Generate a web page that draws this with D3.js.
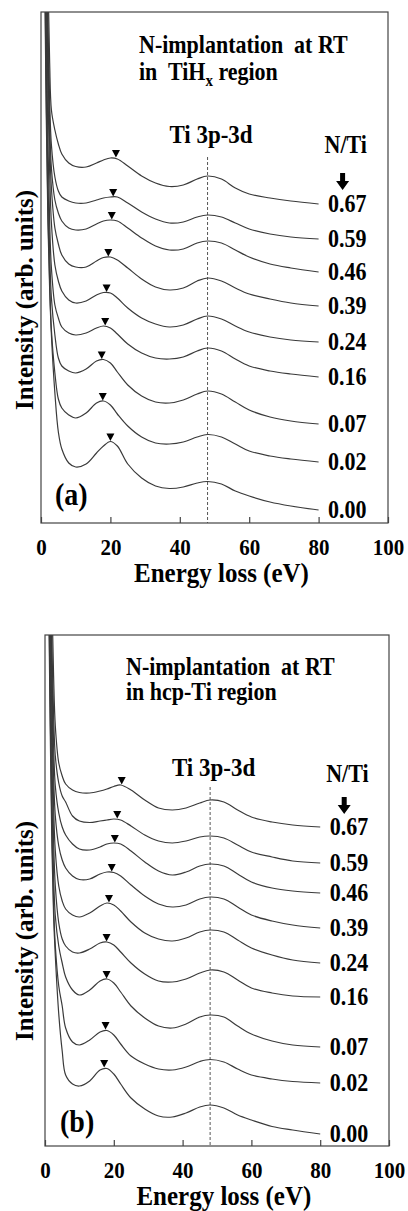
<!DOCTYPE html>
<html>
<head>
<meta charset="utf-8">
<script src="https://cdn.jsdelivr.net/npm/d3@7"></script>
<style>
  body { margin: 0; background: #fff; }
  text { font-family: "Liberation Serif", "Times New Roman", serif; font-weight: bold; fill: #000; }
</style>
</head>
<body>
<div id="chart"></div>
<script>
// energy grid (eV) shared by every spectrum
var energy = [1, 1.5, 2, 2.5, 3, 4, 5, 6, 8, 10, 13, 16, 18, 20, 22, 25, 29, 33, 37, 41, 45, 48, 52, 56, 60, 66, 72, 80];

// N/Ti ratios, top spectrum first
var ratios = ["0.67", "0.59", "0.46", "0.39", "0.24", "0.16", "0.07", "0.02", "0.00"];

// (a) TiHx region - intensity (arb. units, offset)
var tihx067 = [75, 64, 55, 46, 41.3, 39.3, 37.9, 36.9, 36.0, 35.65, 35.6, 36.0, 36.3, 36.5, 36.4, 35.7, 34.7, 34.0, 33.65, 33.8, 34.4, 34.7, 34.4, 33.5, 32.9, 32.5, 32.2, 31.9];
var tihx059 = [72, 60, 50, 42, 37.8, 34.6, 33.2, 32.6, 32.2, 32.0, 32.0, 32.3, 32.5, 32.6, 32.6, 32.0, 31.1, 30.4, 30.0, 30.1, 30.6, 30.8, 30.6, 30.0, 29.4, 28.9, 28.6, 28.4];
var tihx046 = [70, 58, 48, 40, 35.5, 32.3, 31.0, 30.2, 29.5, 29.3, 29.4, 29.9, 30.2, 30.3, 30.2, 29.5, 28.5, 27.7, 27.3, 27.4, 28.0, 28.2, 28.0, 27.3, 26.6, 25.9, 25.5, 25.1];
var tihx039 = [68, 56, 46, 38, 33.5, 29.5, 27.9, 26.8, 25.9, 25.6, 25.6, 26.2, 26.55, 26.6, 26.3, 25.5, 24.4, 23.6, 23.3, 23.5, 24.2, 24.5, 24.2, 23.5, 22.9, 22.4, 22.0, 21.7];
var tihx024 = [66, 54, 43, 35, 30, 25.8, 24.2, 23.2, 22.3, 22.0, 22.2, 22.8, 23.05, 23.0, 22.5, 21.5, 20.5, 19.9, 19.6, 19.8, 20.4, 20.7, 20.4, 19.7, 19.1, 18.6, 18.3, 18.1];
var tihx016 = [64, 50, 38, 30, 25.5, 21.8, 20.5, 19.6, 19.0, 18.8, 19.0, 19.5, 19.7, 19.5, 18.9, 17.9, 17.0, 16.5, 16.4, 16.6, 17.2, 17.5, 17.2, 16.4, 15.7, 15.2, 14.9, 14.6];
var tihx007 = [62, 46, 34, 27, 22.5, 18.8, 16.5, 15.7, 15.2, 15.0, 15.4, 16.2, 16.35, 16.0, 15.1, 13.8, 12.7, 12.1, 12.0, 12.3, 12.9, 13.2, 12.9, 12.1, 11.3, 10.6, 10.2, 9.9];
var tihx002 = [60, 43, 31, 24, 19.3, 15.0, 12.4, 11.5, 10.8, 10.5, 11.0, 12.0, 12.2, 11.8, 10.9, 9.7, 8.6, 8.0, 7.9, 8.1, 8.6, 8.85, 8.6, 7.9, 7.2, 6.7, 6.4, 6.1];
var tihx000 = [58, 41, 30, 23.3, 18.8, 13.0, 9.1, 7.4, 6.0, 5.6, 5.9, 7.0, 7.7, 8.15, 7.7, 5.9, 4.5, 3.7, 3.45, 3.6, 4.0, 4.15, 3.9, 3.2, 2.7, 2.1, 1.7, 1.3];

// (b) hcp-Ti region
var hcp067 = [75, 64, 55, 47, 42, 38.3, 37.0, 36.2, 35.6, 35.35, 35.3, 35.5, 35.7, 35.95, 36.1, 35.6, 34.6, 33.8, 33.6, 33.8, 34.3, 34.6, 34.4, 33.6, 32.9, 32.4, 32.1, 31.9];
var hcp059 = [72, 60, 50, 43, 39, 36.3, 35.0, 34.4, 33.0, 32.5, 32.35, 32.5, 32.6, 32.7, 32.6, 32.0, 31.1, 30.5, 30.3, 30.5, 30.9, 31.0, 30.8, 30.1, 29.4, 28.9, 28.5, 28.3];
var hcp046 = [70, 58, 48, 40, 36, 33.3, 31.9, 31.1, 30.2, 29.7, 29.6, 29.9, 30.2, 30.3, 30.2, 29.5, 28.4, 27.5, 27.1, 27.4, 28.0, 28.2, 28.0, 27.2, 26.4, 25.8, 25.5, 25.3];
var hcp039 = [68, 56, 46, 37, 33, 30.0, 28.6, 27.8, 27.0, 26.65, 26.7, 27.2, 27.4, 27.35, 27.0, 26.1, 25.0, 24.2, 23.9, 24.1, 24.7, 24.9, 24.7, 23.9, 23.1, 22.5, 22.1, 21.8];
var hcp024 = [66, 54, 43, 34, 29.5, 26.0, 24.5, 23.7, 23.1, 22.9, 23.3, 24.0, 24.3, 24.1, 23.5, 22.4, 21.3, 20.7, 20.5, 20.8, 21.4, 21.6, 21.4, 20.6, 19.8, 19.1, 18.6, 18.3];
var hcp016 = [64, 50, 39, 30.5, 26, 22.3, 20.7, 20.0, 19.4, 19.3, 19.7, 20.3, 20.4, 20.1, 19.4, 18.3, 17.2, 16.5, 16.4, 16.7, 17.3, 17.6, 17.4, 16.6, 15.8, 15.3, 15.0, 14.9];
var hcp007 = [62, 47, 35, 27, 23, 20.0, 18.3, 16.9, 15.6, 15.1, 15.6, 16.5, 16.7, 16.3, 15.4, 14.0, 12.8, 12.0, 11.8, 12.2, 12.9, 13.1, 12.9, 12.0, 11.2, 10.5, 10.1, 9.9];
var hcp002 = [60, 44, 32, 24, 20, 16.0, 14.0, 11.8, 10.4, 10.1, 10.6, 11.4, 11.55, 11.1, 10.2, 9.0, 8.2, 7.7, 7.6, 7.9, 8.45, 8.65, 8.4, 7.7, 7.1, 6.7, 6.45, 6.3];
var hcp000 = [58, 42, 30, 23, 19, 13.2, 9.5, 7.1, 6.2, 6.0, 6.5, 7.6, 7.75, 7.2, 6.2, 4.8, 3.7, 3.0, 2.9, 3.3, 3.9, 4.1, 3.8, 3.1, 2.6, 1.95, 1.6, 1.2];

// plasmon peak markers (energy, intensity at the tip)
var peakEnergyA = [21.6, 20.8, 20.4, 19.4, 18.9, 18.5, 17.5, 17.8, 20.0];
var peakIntensityA = [36.5, 32.6, 30.3, 26.6, 23.05, 19.7, 16.35, 12.2, 8.15];
var peakEnergyB = [22.3, 21.0, 20.3, 19.4, 18.6, 17.9, 17.9, 17.6, 17.2];
var peakIntensityB = [36.1, 32.7, 30.3, 27.4, 24.3, 20.4, 16.7, 11.6, 7.8];

var xTicks = [0, 20, 40, 60, 80, 100];
var ti3pEnergy = 48;

var W = 408, H = 1211;
var svg = d3.select("#chart").append("svg").attr("width", W).attr("height", H);

// the scanned figure is a bit taller than wide, so stretch horizontal text
function stretch(sel) {
  sel.each(function () {
    var t = d3.select(this);
    var tx = +t.attr("x") || 0, ty = +t.attr("y") || 0;
    t.attr("x", 0).attr("y", 0)
      .attr("transform", "translate(" + tx + "," + ty + ") scale(1,1.1)");
  });
}

var panels = [
  {
    id: "a", left: 41, top: 12, width: 347, height: 511,
    series: [tihx067, tihx059, tihx046, tihx039, tihx024, tihx016, tihx007, tihx002, tihx000],
    peakE: peakEnergyA, peakI: peakIntensityA,
    line1: [98, 41], line2: [98, 68],
    tiLabelY: 131, nTiY: 141, arrowY: 161, dashTop: 36.6,
    tagY: 493, tagX: 14, yLabelX: -8, yLabelY: 288
  },
  {
    id: "b", left: 45, top: 635, width: 344, height: 511,
    series: [hcp067, hcp059, hcp046, hcp039, hcp024, hcp016, hcp007, hcp002, hcp000],
    peakE: peakEnergyB, peakI: peakIntensityB,
    line1: [81, 40], line2: [81, 65],
    tiLabelY: 141, nTiY: 147, arrowY: 162, dashTop: 35.9,
    tagY: 497, tagX: 15, yLabelX: -12, yLabelY: 296
  }
];

panels.forEach(function (p) {
  var g = svg.append("g").attr("transform", "translate(" + p.left + "," + p.top + ")");

  var x = d3.scaleLinear().domain([0, 100]).range([0, p.width]);
  var y = d3.scaleLinear().domain([0, 51.1]).range([p.height, 0]);

  g.append("clipPath").attr("id", "clip-" + p.id)
    .append("rect").attr("width", p.width).attr("height", p.height);

  // dashed Ti 3p-3d guide
  g.append("line")
    .attr("x1", x(ti3pEnergy)).attr("x2", x(ti3pEnergy))
    .attr("y1", y(p.dashTop)).attr("y2", p.height)
    .attr("stroke", "#555").attr("stroke-width", 1)
    .attr("stroke-dasharray", "3,2");

  var line = d3.line()
    .x(function (d) { return x(d[0]); })
    .y(function (d) { return y(d[1]); })
    .curve(d3.curveCatmullRom.alpha(0.5));

  g.append("g").attr("clip-path", "url(#clip-" + p.id + ")")
    .selectAll("path")
    .data(p.series)
    .enter()
    .append("path")
    .attr("d", function (s) { return line(energy.map(function (e, i) { return [e, s[i]]; })); })
    .attr("fill", "none")
    .attr("stroke", "#3a3a3a")
    .attr("stroke-width", 1.2);

  // peak markers (down triangles, tip on the curve)
  g.selectAll(".peak")
    .data(p.peakE)
    .enter()
    .append("path")
    .attr("d", function (e, i) {
      var px = x(e), py = y(p.peakI[i]) - 0.5;
      return "M" + (px - 4) + "," + (py - 7.5) + "L" + (px + 4) + "," + (py - 7.5) + "L" + px + "," + py + "Z";
    })
    .attr("fill", "#000");

  // frame
  g.append("rect")
    .attr("width", p.width).attr("height", p.height)
    .attr("fill", "none").attr("stroke", "#444").attr("stroke-width", 1.2);

  // x axis, inward ticks
  var xAxis = g.append("g").attr("transform", "translate(0," + p.height + ")")
    .call(d3.axisBottom(x).tickValues(xTicks).tickSize(-6).tickFormat(d3.format("d")));
  xAxis.select(".domain").remove();
  xAxis.selectAll("line").attr("stroke", "#444").attr("stroke-width", 1.2);
  xAxis.selectAll("text")
    .attr("dy", "0.35em").attr("y", 24)
    .style("font-size", "21px")
    .style("font-family", "'Liberation Serif', serif")
    .style("font-weight", "bold")
    .attr("fill", "#000")
    .call(stretch);

  g.append("text")
    .attr("x", x(52)).attr("y", p.height + 59)
    .attr("text-anchor", "middle")
    .style("font-size", "25px")
    .text("Energy loss (eV)")
    .call(stretch);

  g.append("text")
    .attr("transform", "translate(" + p.yLabelX + "," + p.yLabelY + ") rotate(-90)")
    .attr("text-anchor", "middle")
    .style("font-size", "25px")
    .text("Intensity (arb. units)");

  // curve labels at 80 eV
  g.selectAll(".lab")
    .data(p.series)
    .enter()
    .append("text")
    .attr("x", x(80) + 9.5)
    .attr("y", function (s) { return y(s[s.length - 1]); })
    .attr("dy", "0.35em")
    .style("font-size", "22px")
    .text(function (s, i) { return ratios[i]; })
    .call(stretch);

  // annotations
  g.append("text").attr("x", p.line1[0]).attr("y", p.line1[1])
    .style("font-size", "22px").style("white-space", "pre")
    .text("N-implantation  at RT")
    .call(stretch);
  var t2 = g.append("text").attr("x", p.line2[0]).attr("y", p.line2[1])
    .style("font-size", "22px").style("white-space", "pre");
  if (p.id === "a") {
    t2.append("tspan").text("in  TiH");
    t2.append("tspan").attr("dy", 5).style("font-size", "15px").text("x");
    t2.append("tspan").attr("dy", -5).text(" region");
  } else {
    t2.text("in hcp-Ti region");
  }
  t2.call(stretch);

  g.append("text").attr("x", x(49)).attr("y", p.tiLabelY)
    .attr("text-anchor", "middle").style("font-size", "23px")
    .text("Ti 3p-3d")
    .call(stretch);

  g.append("text").attr("x", x(80) + 6).attr("y", p.nTiY)
    .style("font-size", "22px")
    .text("N/Ti")
    .call(stretch);

  // thick down arrow below N/Ti
  var ax = x(80) + 24, ay = p.arrowY;
  g.append("path")
    .attr("d", "M" + (ax - 2.5) + "," + ay + "L" + (ax + 2.5) + "," + ay + "L" + (ax + 2.5) + "," + (ay + 8) +
      "L" + (ax + 6.5) + "," + (ay + 8) + "L" + ax + "," + (ay + 17) + "L" + (ax - 6.5) + "," + (ay + 8) +
      "L" + (ax - 2.5) + "," + (ay + 8) + "Z")
    .attr("fill", "#000");

  g.append("text").attr("x", p.tagX).attr("y", p.tagY)
    .style("font-size", "28px")
    .text("(" + p.id + ")")
    .call(stretch);
});
</script>
</body>
</html>
